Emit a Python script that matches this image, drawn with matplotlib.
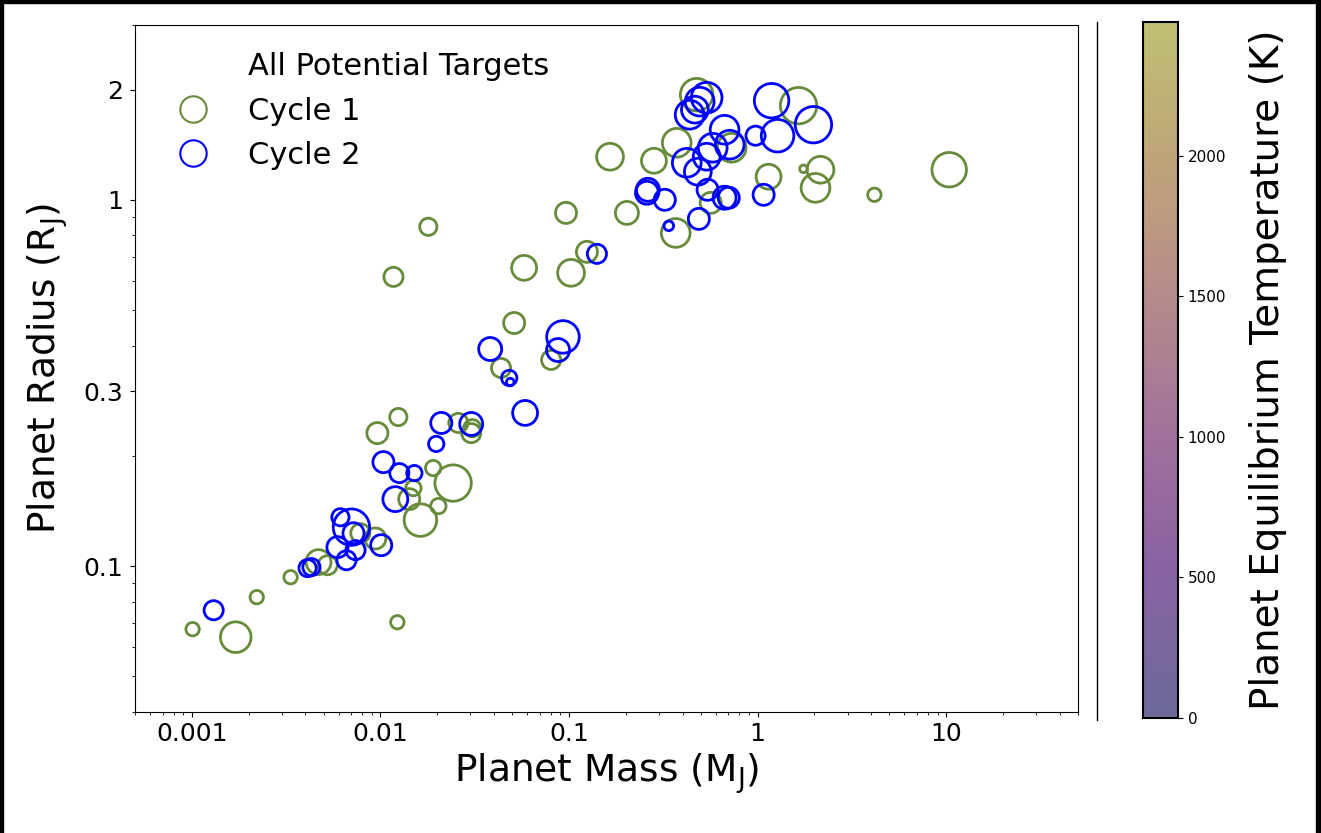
import numpy as np
import matplotlib
matplotlib.use("Agg")
import matplotlib.pyplot as plt
from matplotlib.colors import LinearSegmentedColormap, Normalize
from matplotlib.lines import Line2D
from matplotlib.patches import Rectangle
from matplotlib.ticker import LogLocator, NullFormatter

# Cycle 1 targets: mass (M_J), radius (R_J), marker area (pt^2)
cycle1_mass = [0.00101, 0.00171, 0.00221, 0.00334, 0.0123, 0.0047, 0.00525, 0.00783, 0.0094, 0.00964,
               0.01245, 0.01496, 0.01422, 0.0163, 0.0203, 0.01905, 0.0243, 0.0259, 0.0307, 0.0303,
               0.01795, 0.01173, 0.0512, 0.0436, 0.0804, 0.0578, 0.1025, 0.1245, 0.0964, 0.2028,
               0.165, 0.282, 0.3725, 0.475, 0.728, 0.368, 0.564, 1.143, 1.751, 2.154,
               2.027, 1.648, 4.16, 10.37]
cycle1_radius = [0.0673, 0.064, 0.0823, 0.0933, 0.0703, 0.1026, 0.1006, 0.123, 0.119, 0.2308,
                 0.2553, 0.1633, 0.1524, 0.1336, 0.1459, 0.1853, 0.1686, 0.246, 0.238, 0.2308,
                 0.844, 0.616, 0.461, 0.3475, 0.3655, 0.652, 0.632, 0.721, 0.921, 0.921,
                 1.311, 1.278, 1.431, 1.936, 1.387, 0.812, 0.981, 1.156, 1.215, 1.208,
                 1.078, 1.807, 1.032, 1.208]
cycle1_size = [93, 486, 93, 93, 93, 321, 190, 190, 230, 230,
               154, 122, 230, 549, 122, 122, 686, 190, 154, 190,
               154, 190, 230, 190, 190, 321, 372, 230, 230, 274,
               372, 321, 428, 549, 428, 428, 230, 321, 30, 372,
               428, 686, 93, 616]

# Cycle 2 targets
cycle2_mass = [0.001306, 0.00411, 0.00431, 0.00614, 0.00702, 0.0072, 0.00592, 0.00738, 0.00661, 0.0101,
               0.01038, 0.0126, 0.01514, 0.012, 0.02103, 0.01977, 0.0303, 0.0382, 0.0482, 0.0488,
               0.0585, 0.0929, 0.0875, 0.1406, 0.262, 0.259, 0.322, 0.338, 0.488, 0.543,
               0.668, 0.703, 1.076, 0.421, 0.482, 0.537, 0.578, 0.668, 0.711, 0.975,
               1.276, 1.186, 1.977, 0.436, 0.465, 0.493, 0.537]
cycle2_radius = [0.0758, 0.0988, 0.0994, 0.136, 0.1278, 0.123, 0.1127, 0.1106, 0.1038, 0.1141,
                 0.1923, 0.1795, 0.1795, 0.1524, 0.246, 0.2156, 0.2444, 0.3915, 0.3264, 0.318,
                 0.262, 0.4224, 0.389, 0.712, 1.065, 1.045, 1.0, 0.849, 0.887, 1.065,
                 1.013, 1.013, 1.032, 1.262, 1.193, 1.311, 1.387, 1.553, 1.414, 1.496,
                 1.496, 1.864, 1.603, 1.707, 1.762, 1.853, 1.9]
cycle2_size = [190, 154, 154, 154, 686, 230, 230, 190, 190, 230,
               230, 190, 122, 321, 230, 122, 274, 274, 122, 30,
               321, 549, 274, 190, 274, 274, 230, 48, 230, 230,
               274, 230, 230, 428, 372, 372, 428, 428, 428, 190,
               549, 616, 686, 428, 372, 428, 486]

x_ticks = [0.001, 0.01, 0.1, 1, 10]
x_tick_labels = ["0.001", "0.01", "0.1", "1", "10"]
y_ticks = [0.1, 0.3, 1, 2]
y_tick_labels = ["0.1", "0.3", "1", "2"]
teq_ticks = [0, 500, 1000, 1500, 2000]
teq_max = 2475

green = "#678b3b"
blue = "#0000ff"

fig = plt.figure(figsize=(13.21, 8.33), dpi=100)
ax = fig.add_axes([0.1022, 0.1453, 0.7139, 0.8247])

ax.scatter(cycle1_mass, cycle1_radius, s=cycle1_size, facecolors="none",
           edgecolors=green, linewidths=2)
ax.scatter(cycle2_mass, cycle2_radius, s=cycle2_size, facecolors="none",
           edgecolors=blue, linewidths=2)

ax.set_xscale("log")
ax.set_yscale("log")
ax.set_xlim(5e-4, 50)
ax.set_ylim(0.04, 3.0)

ax.set_xticks(x_ticks)
ax.set_xticklabels(x_tick_labels)
ax.set_yticks(y_ticks)
ax.set_yticklabels(y_tick_labels)
ax.xaxis.set_minor_locator(LogLocator(base=10, subs=np.arange(2, 10), numticks=20))
ax.yaxis.set_minor_locator(LogLocator(base=10, subs=np.arange(1, 10), numticks=20))
ax.xaxis.set_minor_formatter(NullFormatter())
ax.yaxis.set_minor_formatter(NullFormatter())
ax.tick_params(axis="both", which="major", labelsize=18)
ax.tick_params(axis="y", which="major", pad=5)

ax.set_xlabel(r"Planet Mass (M$_\mathrm{J}$)", fontsize=27)
ax.set_ylabel(r"Planet Radius (R$_\mathrm{J}$)", fontsize=27, labelpad=10)

handles = [
    Line2D([], [], ls="none", marker=None),
    Line2D([], [], ls="none", marker="o", mfc="none", mec=green, mew=1.5, ms=19),
    Line2D([], [], ls="none", marker="o", mfc="none", mec=blue, mew=1.5, ms=19),
]
ax.legend(handles, ["All Potential Targets", "Cycle 1", "Cycle 2"], loc="upper left",
          frameon=False, fontsize=22, bbox_to_anchor=(0.0, 1.0))

# colorbar for equilibrium temperature
cmap = LinearSegmentedColormap.from_list(
    "teq", [(0.0, "#6c6a98"), (0.22, "#8a62a3"), (0.4, "#a1709c"),
            (0.55, "#b0848f"), (0.7, "#bc9782"), (0.85, "#bfaa76"), (1.0, "#bfc074")])
sm = plt.cm.ScalarMappable(cmap=cmap, norm=Normalize(0, teq_max))
cax = fig.add_axes([0.8653, 0.138, 0.0265, 0.8355])
cb = fig.colorbar(sm, cax=cax, ticks=teq_ticks)
cb.outline.set_linewidth(1.5)
cb.ax.tick_params(labelsize=11)
cb.set_label("Planet Equilibrium Temperature (K)", fontsize=28, labelpad=16)

# separator line and frame edges
fig.add_artist(Line2D([0.8304, 0.8304], [0.1357, 0.9736], transform=fig.transFigure,
                      color="black", lw=1))
fig.add_artist(Rectangle((0, 0), 3 / 1321, 1, transform=fig.transFigure, color="black"))
fig.add_artist(Rectangle((0, 1 - 3 / 833), 1, 3 / 833, transform=fig.transFigure, color="black"))
fig.add_artist(Rectangle((1 - 5 / 1321, 0), 5 / 1321, 1, transform=fig.transFigure, color="black"))

fig.savefig("out.png", dpi=100)
